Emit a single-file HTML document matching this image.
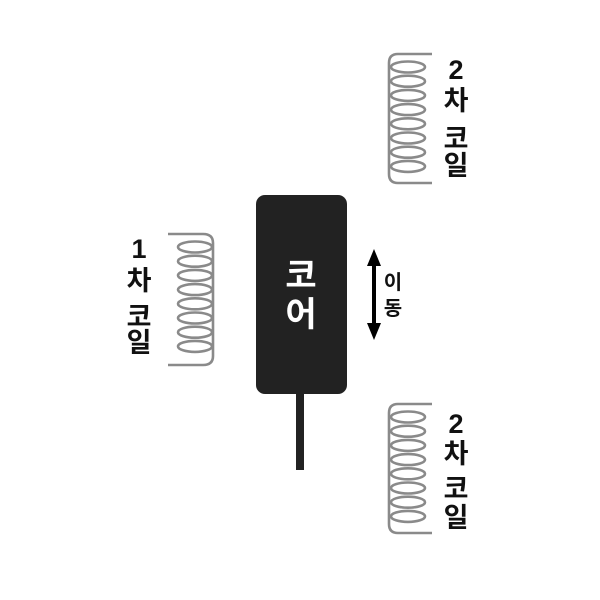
<!DOCTYPE html>
<html><head><meta charset="utf-8"><style>
body{margin:0;background:#fff}
svg{display:block}
.t{font-family:"Liberation Sans","Noto Sans CJK KR",sans-serif;font-weight:bold;fill:#111;text-anchor:middle}
</style></head><body>
<svg width="600" height="600" viewBox="0 0 600 600">
<defs>
<g id="loops" fill="none" stroke="#8a8a8a" stroke-width="2.6">
<ellipse cx="0" cy="0" rx="17" ry="5.5"/>
<ellipse cx="0" cy="14.2" rx="17" ry="5.5"/>
<ellipse cx="0" cy="28.4" rx="17" ry="5.5"/>
<ellipse cx="0" cy="42.6" rx="17" ry="5.5"/>
<ellipse cx="0" cy="56.8" rx="17" ry="5.5"/>
<ellipse cx="0" cy="71" rx="17" ry="5.5"/>
<ellipse cx="0" cy="85.2" rx="17" ry="5.5"/>
<ellipse cx="0" cy="99.4" rx="17" ry="5.5"/>
</g>
</defs>
<g>
<use href="#loops" x="408" y="67"/>
<path d="M432 54 H398 Q389 54 389 63 V174 Q389 183 398 183 H432" fill="none" stroke="#8a8a8a" stroke-width="2.6"/>
</g>
<g>
<use href="#loops" x="408" y="417"/>
<path d="M432 404 H398 Q389 404 389 413 V524 Q389 533 398 533 H432" fill="none" stroke="#8a8a8a" stroke-width="2.6"/>
</g>
<g>
<use href="#loops" x="195" y="247"/>
<path d="M168 234 H203 Q213 234 213 243 V356 Q213 365 203 365 H168" fill="none" stroke="#8a8a8a" stroke-width="2.6"/>
</g>
<g class="t" font-size="27">
<text x="456" y="79">2</text><text x="456" y="110">차</text>
<text x="456" y="148">코</text><text x="456" y="175">일</text>
<text x="456" y="433">2</text><text x="456" y="463">차</text>
<text x="456" y="498">코</text><text x="456" y="527">일</text>
<text x="139" y="258">1</text><text x="139" y="290">차</text>
<text x="139" y="326">코</text><text x="139" y="352">일</text>
</g>
<rect x="256" y="195" width="91" height="199" rx="9" fill="#222"/>
<rect x="296" y="393" width="8" height="77" fill="#222"/>
<text class="t" x="301" y="287" font-size="34" style="fill:#fff">코</text>
<text class="t" x="301" y="326" font-size="34" style="fill:#fff">어</text>
<rect x="372" y="262" width="4" height="66" fill="#000"/>
<polygon points="374,249 367,266 381,266" fill="#000"/>
<polygon points="374,340 367,323 381,323" fill="#000"/>
<g class="t" font-size="20">
<text x="393" y="289">이</text><text x="393" y="315">동</text>
</g>
</svg>
</body></html>
